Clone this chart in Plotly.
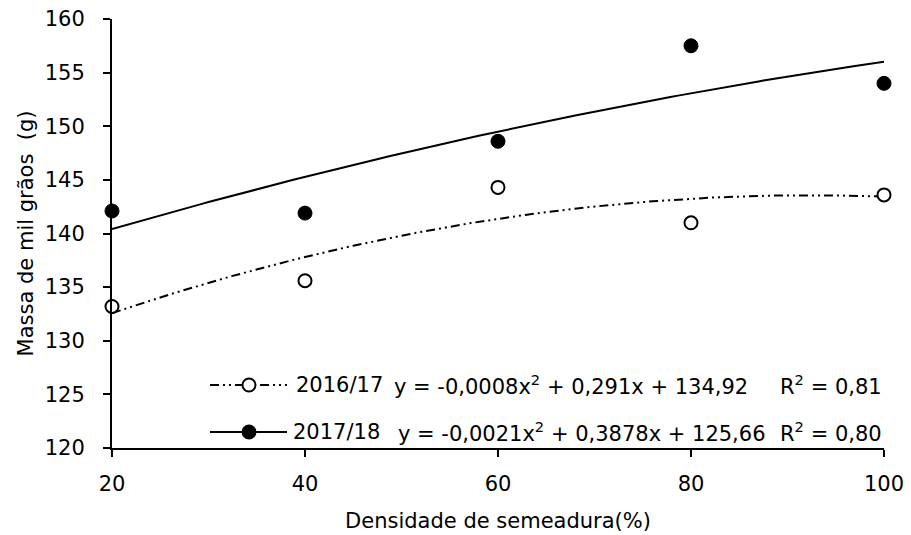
import numpy as np
import plotly.graph_objects as go

# ---- data ----
density = [20, 40, 60, 80, 100]
mass_2016_17 = [133.2, 135.6, 144.3, 141.0, 143.6]
mass_2017_18 = [142.1, 141.9, 148.6, 157.5, 154.0]

# trend-line coefficients (a, b, c) for y = a x^2 + b x + c, as drawn
coef_dashdot = [-0.0021, 0.3878, 125.66]   # curve through 2016/17 points
coef_solid = [-0.0008, 0.291, 134.92]      # curve through 2017/18 points

series_names = ["2016/17", "2017/18"]
equation_texts = ["y = -0,0008x<sup>2</sup> + 0,291x + 134,92",
                  "y = -0,0021x<sup>2</sup> + 0,3878x + 125,66"]
r2_texts = ["R<sup>2</sup> = 0,81", "R<sup>2</sup> = 0,80"]

x_ticks = [20, 40, 60, 80, 100]
y_ticks = [120, 125, 130, 135, 140, 145, 150, 155, 160]

FONT = "DejaVu Sans"
FS = 21
DASHDOT = "9px,4px,2px,4px,2px,4px"

xs = np.linspace(min(density), max(density), 161)


def poly(c, x):
    return c[0] * x ** 2 + c[1] * x + c[2]


fig = go.Figure()
fig.add_trace(go.Scatter(x=xs, y=poly(coef_dashdot, xs), mode="lines",
                         line=dict(color="black", width=2, dash=DASHDOT),
                         showlegend=False, hoverinfo="skip"))
fig.add_trace(go.Scatter(x=xs, y=poly(coef_solid, xs), mode="lines",
                         line=dict(color="black", width=2),
                         showlegend=False, hoverinfo="skip"))
fig.add_trace(go.Scatter(x=density, y=mass_2016_17, mode="markers",
                         marker=dict(size=13, color="white",
                                     line=dict(color="black", width=2)),
                         cliponaxis=False, showlegend=False, name=series_names[0]))
fig.add_trace(go.Scatter(x=density, y=mass_2017_18, mode="markers",
                         marker=dict(size=14, color="black",
                                     line=dict(color="black", width=1)),
                         cliponaxis=False, showlegend=False, name=series_names[1]))

# ---- layout geometry ----
# the page body has an 8px margin, so the figure is drawn 8px in from the
# top-left corner of the window; plot area in window pixels: x 112..884, y 19..448
OFF = 8
W, H = 911 - OFF, 535 - OFF
PL, PT, PW, PH = 112, 19, 772, 429          # plot area in window pixels
L, T = PL - OFF, PT - OFF
R, B = W - L - PW, H - T - PH


def px(xp):   # window x pixel -> paper
    return (xp - PL) / PW


def py(yp):   # window y pixel -> paper
    return (PT + PH - yp) / PH


# manual legend (keys + labels) and equation texts
rows_y = [385, 432]
for i in range(2):
    yv = py(rows_y[i])
    fig.add_shape(type="line", xref="paper", yref="paper",
                  x0=px(210), x1=px(287), y0=yv, y1=yv,
                  line=dict(color="black", width=2,
                            dash=DASHDOT if i == 0 else "solid"))
    fig.add_shape(type="circle", xref="paper", yref="paper",
                  xsizemode="pixel", ysizemode="pixel",
                  xanchor=px(249), yanchor=yv,
                  x0=-6.5, x1=6.5, y0=-6.5, y1=6.5,
                  fillcolor="white" if i == 0 else "black",
                  line=dict(color="black", width=2))

label_x = [294, 291]
eq_x = [392, 396]
for i in range(2):
    yv = py(rows_y[i])
    fig.add_annotation(x=px(label_x[i]), y=yv, xref="paper", yref="paper",
                       text=series_names[i], showarrow=False,
                       xanchor="left", yanchor="middle",
                       font=dict(family=FONT, size=FS, color="black"))
    fig.add_annotation(x=px(eq_x[i]), y=yv, xref="paper", yref="paper",
                       text=equation_texts[i], showarrow=False,
                       xanchor="left", yanchor="middle",
                       font=dict(family=FONT, size=FS, color="black"))
    fig.add_annotation(x=px(778), y=yv, xref="paper", yref="paper",
                       text=r2_texts[i], showarrow=False,
                       xanchor="left", yanchor="middle",
                       font=dict(family=FONT, size=FS, color="black"))

axis_common = dict(showline=True, linecolor="black", linewidth=2,
                   ticks="outside", ticklen=7, tickwidth=2, tickcolor="black",
                   showgrid=False, zeroline=False, automargin=False,
                   ticklabeloverflow="allow",
                   tickfont=dict(family=FONT, size=FS, color="black"))

fig.update_xaxes(range=[20, 100], tickvals=x_ticks,
                 ticktext=[str(v) for v in x_ticks],
                 title=dict(text="Densidade de semeadura(%)", standoff=18,
                            font=dict(family=FONT, size=FS, color="black")),
                 ticklabelstandoff=9, **axis_common)
fig.update_yaxes(range=[120, 160], tickvals=y_ticks,
                 ticktext=[str(v) for v in y_ticks],
                 title=dict(text="Massa de mil grãos  (g)", standoff=5,
                            font=dict(family=FONT, size=FS, color="black")),
                 ticklabelstandoff=14, **axis_common)

fig.update_layout(width=W, height=H, autosize=False,
                  margin=dict(l=L, r=R, t=T, b=B, autoexpand=False),
                  plot_bgcolor="white", paper_bgcolor="white",
                  showlegend=False,
                  font=dict(family=FONT, size=FS, color="black"))

fig.write_html("out.html")
